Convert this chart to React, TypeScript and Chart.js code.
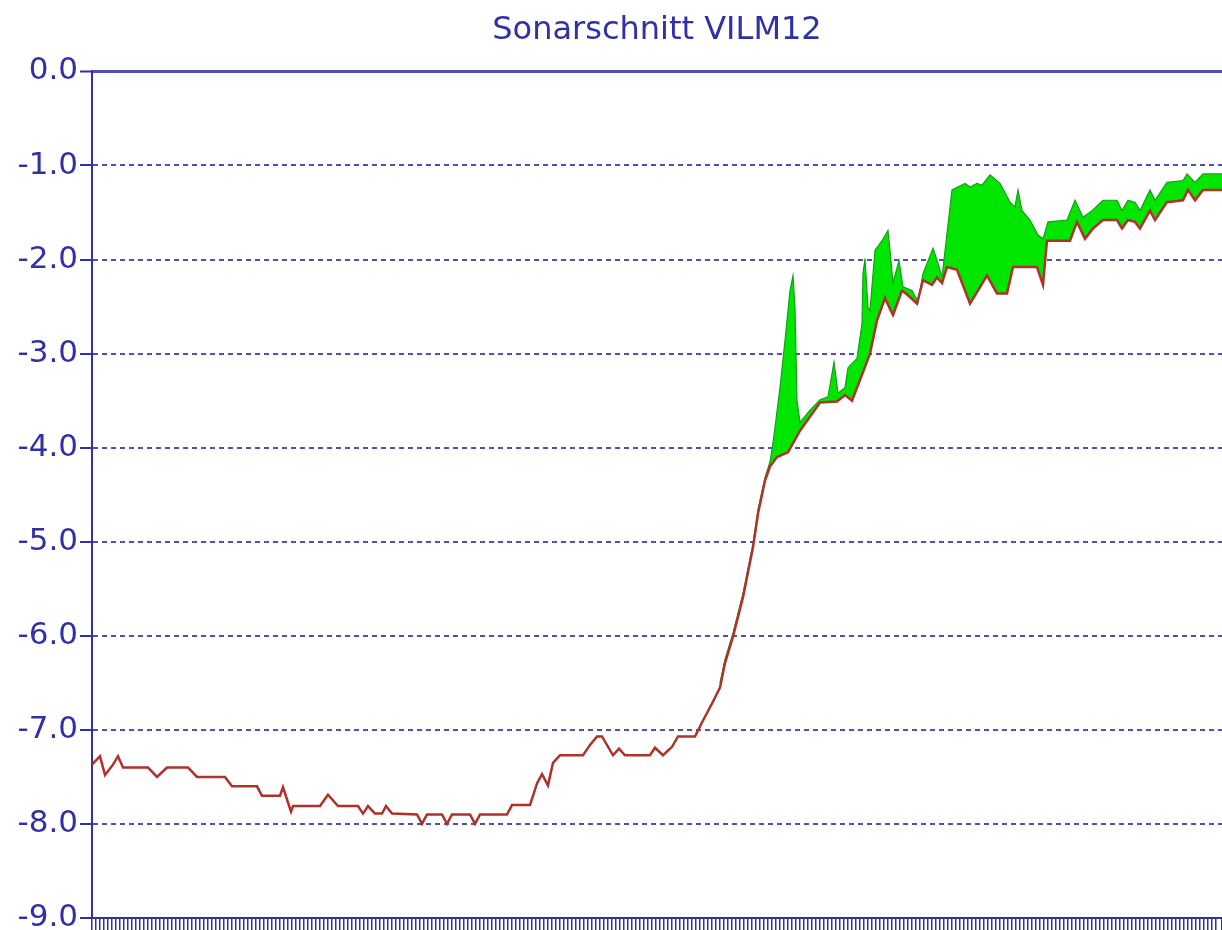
import React, { useEffect, useRef } from "react";
import { Chart, registerables } from "chart.js";

Chart.register(...registerables);

const TITLE = "Sonarschnitt VILM12";
const Y_MIN = -9;
const Y_MAX = 0;
const X_MIN = 0;
const X_MAX = 1130;

// Lower line (red): distance along profile, depth
const redX = [
  0, 8, 13, 21, 26, 31, 56, 65, 75, 96, 105, 133, 140, 165, 170, 188, 191, 199, 201, 228,
  236, 246, 266, 271, 276, 283, 290, 294, 300, 325, 330, 335, 350, 355, 360, 378, 383, 388, 415, 420,
  438, 445, 450, 456, 461, 468, 491, 498, 505, 510, 521, 527, 533, 558, 563, 571, 580, 586, 603, 611,
  620, 628, 633, 641, 651, 661, 666, 673, 678, 685, 696, 708, 728, 745, 753, 760, 768, 778, 785, 793,
  801, 810, 816, 825, 831, 840, 845, 850, 855, 865, 878, 895, 905, 915, 921, 945, 951, 955, 978, 985,
  993, 1001, 1011, 1025, 1030, 1036, 1043, 1048, 1058, 1063, 1075, 1091, 1096, 1103, 1111, 1130,
];
const redDepth = [
  -7.37, -7.28, -7.48, -7.37, -7.28, -7.4, -7.4, -7.5, -7.4, -7.4, -7.5, -7.5, -7.6, -7.6, -7.7, -7.7, -7.61, -7.87, -7.81, -7.81,
  -7.69, -7.81, -7.81, -7.89, -7.81, -7.89, -7.89, -7.81, -7.89, -7.9, -8.0, -7.9, -7.9, -8.0, -7.9, -7.9, -8.0, -7.9, -7.9, -7.8,
  -7.8, -7.57, -7.47, -7.59, -7.35, -7.27, -7.27, -7.16, -7.07, -7.07, -7.27, -7.2, -7.27, -7.27, -7.19, -7.27, -7.18, -7.07, -7.07, -6.9,
  -6.72, -6.55, -6.29, -6.01, -5.59, -5.06, -4.7, -4.35, -4.2, -4.1, -4.05, -3.82, -3.52, -3.51, -3.44, -3.5, -3.28, -3.0, -2.65, -2.41,
  -2.59, -2.33, -2.38, -2.47, -2.22, -2.27, -2.19, -2.25, -2.08, -2.11, -2.47, -2.17, -2.36, -2.36, -2.08, -2.08, -2.27, -1.8, -1.8, -1.6,
  -1.78, -1.67, -1.58, -1.58, -1.67, -1.58, -1.6, -1.67, -1.48, -1.58, -1.39, -1.37, -1.26, -1.37, -1.26, -1.26,
];

// Upper line (green area top)
const greenX = [
  628, 633, 641, 651, 661, 666, 673, 678, 681, 688, 693, 698, 701, 703, 705, 708, 718, 728, 736, 742,
  746, 753, 756, 765, 770, 771, 773, 776, 778, 783, 790, 796, 798, 801, 807, 811, 820, 826, 831, 841,
  846, 850, 855, 860, 873, 878, 885, 890, 898, 908, 918, 923, 926, 930, 938, 946, 951, 956, 975, 983,
  991, 1000, 1011, 1025, 1030, 1036, 1043, 1048, 1058, 1063, 1075, 1091, 1095, 1103, 1111, 1130,
];
const greenDepth = [
  -6.5, -6.25, -5.97, -5.55, -5.02, -4.66, -4.32, -4.15, -3.95, -3.36, -2.86, -2.33, -2.17, -2.51, -3.5, -3.73, -3.6, -3.49, -3.46, -3.09,
  -3.42, -3.36, -3.15, -3.05, -2.68, -2.15, -1.99, -2.51, -2.54, -1.9, -1.8, -1.69, -1.9, -2.25, -2.01, -2.29, -2.33, -2.45, -2.15, -1.88,
  -2.04, -2.19, -1.72, -1.26, -1.19, -1.23, -1.19, -1.21, -1.1, -1.19, -1.39, -1.44, -1.26, -1.48, -1.58, -1.74, -1.78, -1.6, -1.58, -1.37,
  -1.55, -1.48, -1.37, -1.37, -1.48, -1.37, -1.39, -1.48, -1.26, -1.37, -1.18, -1.16, -1.09, -1.18, -1.09, -1.09,
];

const BLUE = "#3030a8";
const FONT = "'DejaVu Sans', Verdana, sans-serif";

export default function App() {
  const ref = useRef<HTMLCanvasElement>(null);

  useEffect(() => {
    const chart = new Chart(ref.current as HTMLCanvasElement, {
      type: "line",
      data: {
        datasets: [
          {
            label: "Sohle",
            data: redX.map((x, i) => ({ x, y: redDepth[i] })),
            borderColor: "#b0302a",
            borderWidth: 2.5,
            pointRadius: 0,
            fill: false,
            tension: 0,
          },
          {
            label: "Auflage",
            data: greenX.map((x, i) => ({ x, y: greenDepth[i] })),
            borderColor: "#14a014",
            backgroundColor: "#00e600",
            borderWidth: 1.2,
            pointRadius: 0,
            fill: "-1",
            tension: 0,
          },
        ],
      },
      options: {
        responsive: false,
        animation: false,
        layout: { padding: 0 },
        plugins: {
          legend: { display: false },
          tooltip: { enabled: false },
          title: {
            display: true,
            text: TITLE,
            fullSize: false,
            color: BLUE,
            font: { family: FONT, size: 32, weight: "normal", lineHeight: 1.2 },
            padding: { top: 11, bottom: 22 },
          },
        },
        scales: {
          x: {
            type: "linear",
            min: X_MIN,
            max: X_MAX,
            ticks: { display: false, stepSize: 4 },
            grid: {
              drawOnChartArea: false,
              drawTicks: true,
              tickLength: 12,
              color: BLUE,
              lineWidth: 1.5,
            },
            border: { display: true, color: BLUE, width: 2 },
            afterFit: (s: any) => {
              s.height = 32;
            },
          },
          y: {
            type: "linear",
            min: Y_MIN,
            max: Y_MAX,
            ticks: {
              stepSize: 1,
              color: BLUE,
              padding: 2,
              font: { family: FONT, size: 31 },
              callback: (v: any) => Number(v).toFixed(1),
            },
            grid: {
              color: (ctx: any) => (ctx.tick && ctx.tick.value === Y_MIN ? "rgba(0,0,0,0)" : "rgba(48,48,168,0.85)"),
              lineWidth: (ctx: any) => (ctx.tick && ctx.tick.value === Y_MAX ? 3 : 2),
              tickLength: 12,
              tickColor: BLUE,
              tickWidth: 2,
              tickBorderDash: [],
            },
            border: {
              display: true,
              color: BLUE,
              width: 2,
              dash: (ctx: any) => (ctx.tick && ctx.tick.value === Y_MAX ? [] : [5, 4]),
            },
            afterFit: (s: any) => {
              s.width = 92;
            },
          },
        },
      },
    });
    return () => chart.destroy();
  }, []);

  return (
    <div style={{ position: "fixed", left: 0, top: 0, background: "#fff" }}>
      <canvas ref={ref} width={1222} height={950} style={{ display: "block" }} />
    </div>
  );
}
